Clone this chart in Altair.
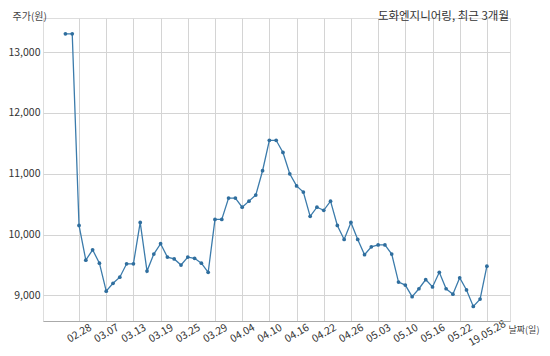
import altair as alt
import pandas as pd

dates = [
    "02.26", "02.27", "02.28", "03.04", "03.05", "03.06", "03.07", "03.08", "03.11", "03.12",
    "03.13", "03.14", "03.15", "03.18", "03.19", "03.20", "03.21", "03.22", "03.25", "03.26",
    "03.27", "03.28", "03.29", "04.01", "04.02", "04.03", "04.04", "04.05", "04.08", "04.09",
    "04.10", "04.11", "04.12", "04.15", "04.16", "04.17", "04.18", "04.19", "04.22", "04.23",
    "04.24", "04.25", "04.26", "04.29", "04.30", "05.02", "05.03", "05.07", "05.08", "05.09",
    "05.10", "05.13", "05.14", "05.15", "05.16", "05.17", "05.20", "05.21", "05.22", "05.23",
    "05.24", "05.27", "05.28",
]
prices = [
    13300, 13300, 10150, 9580, 9750, 9530, 9070, 9200, 9300, 9520,
    9520, 10200, 9400, 9680, 9850, 9630, 9600, 9500, 9630, 9610,
    9530, 9380, 10250, 10250, 10600, 10600, 10450, 10550, 10650, 11050,
    11550, 11550, 11350, 11000, 10800, 10700, 10300, 10450, 10400, 10550,
    10150, 9920, 10200, 9920, 9670, 9800, 9830, 9830, 9680, 9220,
    9170, 8980, 9110, 9260, 9140, 9380, 9110, 9020, 9290, 9090,
    8820, 8940, 9480,
]
tick_index = list(range(2, 63, 4))
tick_labels = ["02.28", "03.07", "03.13", "03.19", "03.25", "03.29", "04.04", "04.10",
               "04.16", "04.22", "04.26", "05.03", "05.10", "05.16", "05.22", "19.05.28"]
y_ticks = [9000, 10000, 11000, 12000, 13000]

df = pd.DataFrame({"i": list(range(len(prices))), "date": dates, "price": prices})

FONT = "Noto Sans CJK KR"
W, H = 467, 303
label_arr = "[" + ",".join("'%s'" % t for t in tick_labels) + "]"

x = alt.X(
    "i:Q",
    scale=alt.Scale(domain=[-3.3, 65.4], nice=False, zero=False),
    axis=alt.Axis(
        values=tick_index,
        labelExpr=label_arr + "[round((datum.value-2)/4)]",
        labelOverlap=False,
        labelAngle=-30, labelAlign="center", labelBaseline="middle",
        labelPadding=12, labelFontSize=10.5, labelColor="#333", labelFont=FONT,
        ticks=False, domainColor="#aaaaaa", gridColor="#d4d4d4",
        title="날짜(일)", titleX=465, titleY=8, titleAlign="left",
        titleBaseline="middle", titleFont=FONT, titleFontSize=9,
        titleFontWeight="normal", titleColor="#444",
    ),
)
y = alt.Y(
    "price:Q",
    scale=alt.Scale(domain=[8580, 13560], nice=False, zero=False),
    axis=alt.Axis(
        values=y_ticks, format=",d", domain=False, ticks=False, labelPadding=3,
        labelFontSize=10.5, labelColor="#333", labelFont=FONT, gridColor="#d4d4d4",
        title="주가(원)", titleAngle=0, titleX=-31, titleY=-2, titleAlign="left",
        titleBaseline="middle", titleFont=FONT, titleFontSize=10,
        titleFontWeight="normal", titleColor="#444",
    ),
)

base = alt.Chart(df)
line = base.mark_line(color="#3b7bab", strokeWidth=1.3).encode(x=x, y=y)
pts = base.mark_circle(color="#2f6e9e", size=14, opacity=1).encode(x=x, y=y)
title = alt.Chart(pd.DataFrame({"t": ["도화엔지니어링, 최근 3개월"]})).mark_text(
    align="right", baseline="middle", font=FONT, fontSize=11.5, color="#333"
).encode(text="t:N", x=alt.value(W - 1), y=alt.value(-1))

chart = (
    alt.layer(line, pts, title)
    .properties(
        width=W, height=H,
        autosize=alt.AutoSizeParams(type="none"),
        padding={"left": 35, "top": 10, "right": 32, "bottom": 27},
    )
    .configure_view(stroke=None)
    .configure(background="white")
)
chart.save("out.html", embed_options={"renderer": "svg", "actions": False})
